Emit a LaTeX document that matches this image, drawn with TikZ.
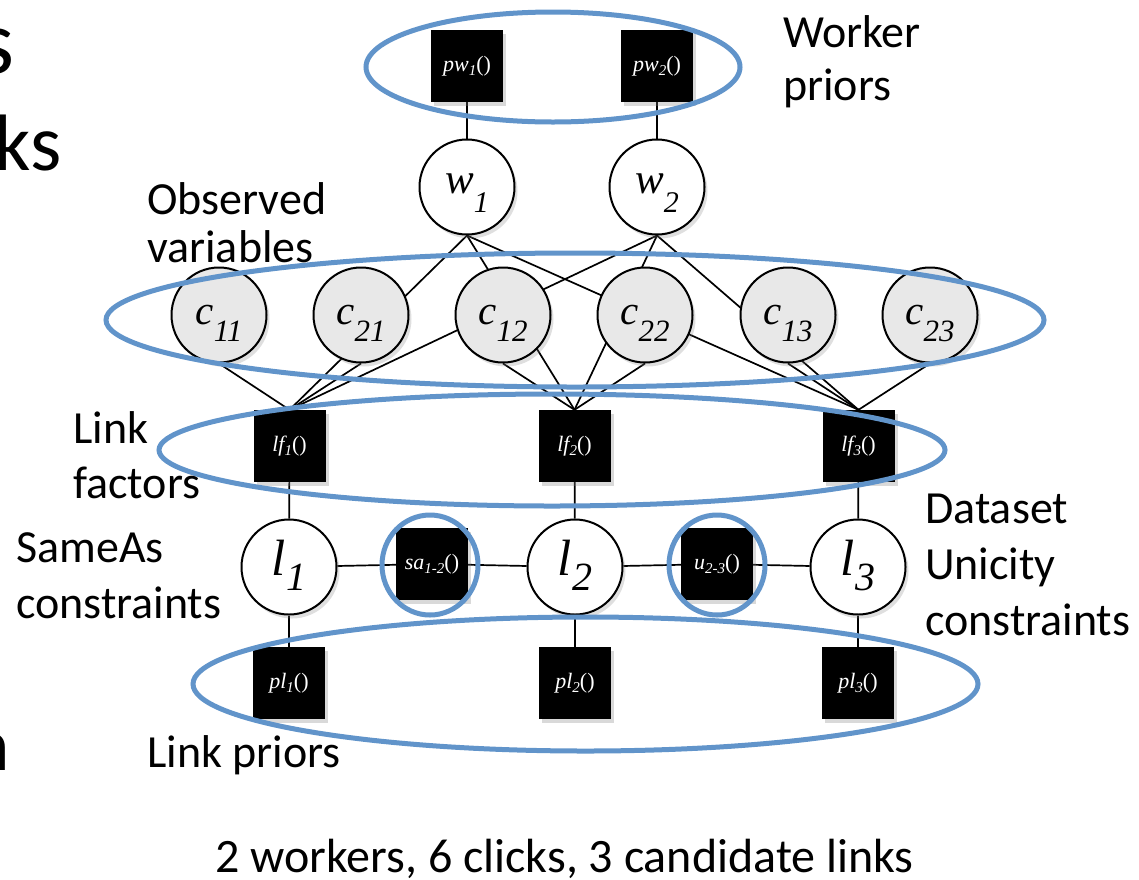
\documentclass[tikz,border=0pt]{standalone}
\usepackage{fontspec}
\setmainfont{Liberation Serif}
\newfontfamily\calib{Carlito}
\usetikzlibrary{shadows,backgrounds}
\definecolor{ovalblue}{RGB}{97,148,202}
\definecolor{obsgray}{RGB}{232,232,232}
\newcommand{\fsz}[1]{\fontsize{#1}{#1}\selectfont}
% variable label: main size, main letter, sub size, sub text, lowering
\newcommand{\varlab}[5]{{\fsz{#1}\itshape #2}\raisebox{-#5pt}{\fsz{#3}\itshape #4}}
\newcommand{\faclab}[2]{{\fsz{22}\itshape #1}\raisebox{-4pt}{\fsz{15}\itshape #2}{\fsz{22}()}}
\tikzset{
  varnode/.style={circle, draw=black, line width=2pt, fill=white, minimum size=95pt,
    inner sep=0pt, drop shadow={shadow xshift=3pt, shadow yshift=-4pt, opacity=0.25}},
  obsnode/.style={varnode, fill=obsgray},
  facnode/.style={rectangle, fill=black, minimum size=72pt, inner sep=0pt, text=white,
    drop shadow={shadow xshift=3pt, shadow yshift=-4pt, opacity=0.3}},
  link/.style={line width=1.7pt, black},
  oval/.style={draw=ovalblue, line width=5pt},
  side/.style={font=\calib\fsz{46}, anchor=base west, inner sep=0pt},
  frag/.style={font=\calib, anchor=base east, inner sep=0pt},
}
\begin{document}
\begin{tikzpicture}[x=1pt,y=-1pt]
\useasboundingbox (0,0) rectangle (1139,879);
\clip (0,0) rectangle (1139,879);
% factor nodes
\node[facnode] (pw1) at (467,66) {\faclab{pw}{1}};
\node[facnode] (pw2) at (657,66) {\faclab{pw}{2}};
% worker nodes
\node[varnode, text height=19pt, text depth=7pt] (w1) at (467,187) {\varlab{43}{w}{30}{1}{19}};
\node[varnode, text height=19pt, text depth=7pt] (w2) at (657,187) {\varlab{43}{w}{30}{2}{19}};
% click nodes
\foreach \n/\x/\s in {c11/219/11, c21/361/21, c12/503/12, c22/645/22, c13/788/13, c23/930/23}{
  \node[obsnode, text height=18pt, text depth=0pt] (\n) at (\x,315) {\varlab{41}{c}{31}{\s}{17}};
}
% link factors
\node[facnode] (lf1) at (289.5,446) {\faclab{lf}{1}};
\node[facnode] (lf2) at (574.5,446) {\faclab{lf}{2}};
\node[facnode] (lf3) at (858.5,446) {\faclab{lf}{3}};
% link variables
\node[varnode, text height=35pt, text depth=19pt] (l1) at (289,567) {\varlab{51}{l}{40}{1}{15}};
\node[varnode, text height=35pt, text depth=19pt] (l2) at (575,567) {\varlab{51}{l}{40}{2}{15}};
\node[varnode, text height=35pt, text depth=19pt] (l3) at (858,567) {\varlab{51}{l}{40}{3}{15}};
\node[facnode] (sa) at (432,564) {\faclab{sa}{1-2}};
\node[facnode] (u) at (717,564) {\faclab{u}{2-3}};
% link priors
\node[facnode] (pl1) at (289,683) {\faclab{pl}{1}};
\node[facnode] (pl2) at (575,683) {\faclab{pl}{2}};
\node[facnode] (pl3) at (858,683) {\faclab{pl}{3}};
% connectors
\begin{pgfonlayer}{background}
\draw[link] (pw1) -- (w1);
\draw[link] (pw2) -- (w2);
\foreach \w in {w1,w2}{\foreach \f in {lf1,lf2,lf3}{\draw[link] (\w.south) -- (\f.north);}}
\draw[link] (c11.south) -- (lf1.north);
\draw[link] (c21.south) -- (lf1.north);
\draw[link] (c12.south) -- (lf2.north);
\draw[link] (c22.south) -- (lf2.north);
\draw[link] (c13.south) -- (lf3.north);
\draw[link] (c23.south) -- (lf3.north);
\draw[link] (lf1) -- (l1);
\draw[link] (lf2) -- (l2);
\draw[link] (lf3) -- (l3);
\draw[link] (l1) -- (sa) -- (l2) -- (u) -- (l3);
\draw[link] (l1) -- (pl1);
\draw[link] (l2) -- (pl2);
\draw[link] (l3) -- (pl3);
\end{pgfonlayer}
% blue groupings
\draw[oval] (553,67) ellipse [x radius=187pt, y radius=55pt];
\draw[oval] (575,320) ellipse [x radius=469pt, y radius=67pt];
\draw[oval] (552,450) ellipse [x radius=393pt, y radius=56pt];
\draw[oval] (585.5,684) ellipse [x radius=392.5pt, y radius=67pt];
\draw[oval] (430,565) ellipse [x radius=48pt, y radius=50pt];
\draw[oval] (717,565) ellipse [x radius=48pt, y radius=50pt];
% side labels
\node[side] (t1) at (783,47) {Worker};
\node[side] (t2) at (783,100) {priors};
\node[side] (t3) at (147,214) {Observed};
\node[side] (t4) at (147,262) {variables};
\node[side] (t5) at (73,443) {Link};
\node[side] (t6) at (73,498) {factors};
\node[side] (t7) at (16,562) {SameAs};
\node[side] (t8) at (16,618) {constraints};
\node[side] (t9) at (925,523) {Dataset};
\node[side] (t10) at (925,579) {Unicity};
\node[side] (t11) at (925,635) {constraints};
\node[side] (t12) at (147,767) {Link priors};
\node[side, font=\calib\fsz{48}] (cap) at (215,872) {2 workers, 6 clicks, 3 candidate links};
% cut-off slide text at the left edge
\node[frag, font=\calib\fsz{92}] (f1) at (15,73) {s};
\node[frag, font=\calib\fsz{80}] (f2) at (62,170) {ks};
\node[frag, font=\calib\fsz{75}] (f3) at (10,770) {n};
\end{tikzpicture}
\end{document}
